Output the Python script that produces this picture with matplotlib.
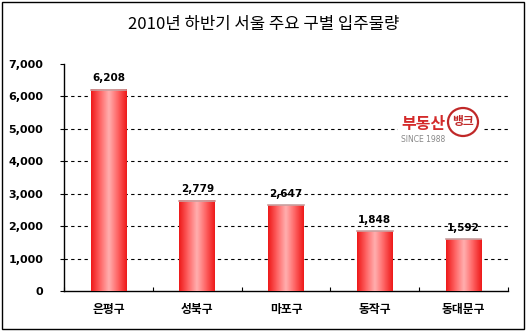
import numpy as np
import matplotlib.pyplot as plt
from matplotlib.patches import Rectangle, Ellipse
from matplotlib.colors import LinearSegmentedColormap

plt.rcParams['font.family'] = ['Noto Sans CJK KR', 'DejaVu Sans']

title = "2010년 하반기 서울 주요 구별 입주물량"
districts = ["은평구", "성북구", "마포구", "동작구", "동대문구"]
supply = [6208, 2779, 2647, 1848, 1592]
y_ticks = [0, 1000, 2000, 3000, 4000, 5000, 6000, 7000]

fig = plt.figure(figsize=(5.27, 3.32), dpi=100)
W, H = 527, 332
ax = fig.add_axes([64 / W, 1 - 291 / H, 444 / W, 227 / H])

# outer frame around the whole chart
fig.patches.append(Rectangle((2 / W, 3 / H), 522 / W, 327 / H, transform=fig.transFigure,
                             fill=False, edgecolor='black', linewidth=1.0))

fig.text(0.5, 1 - 25 / H, title, ha='center', va='center', fontsize=12)

ax.set_xlim(-0.5, len(districts) - 0.5)
ax.set_ylim(0, 7000)

# horizontal red-pink-red shading for the bars
cmap = LinearSegmentedColormap.from_list(
    'bar', [(0.0, '#ee1a1a'), (0.25, '#ff6464'), (0.5, '#ffb0b0'), (0.75, '#ff6464'), (1.0, '#ee1a1a')])
grad = np.linspace(0, 1, 64).reshape(1, -1)
bw = 0.4
for i, v in enumerate(supply):
    ax.imshow(grad, cmap=cmap, aspect='auto', extent=[i - bw / 2, i + bw / 2, 0, v],
              zorder=3, interpolation='bicubic')
    ax.plot([i - bw / 2, i + bw / 2], [v, v], color='#c8a0a0', linewidth=1.2, zorder=4)
    ax.text(i, v + 200, f"{v:,}", ha='center', va='bottom', fontsize=7.5,
            fontweight='bold', family='DejaVu Sans')

for t in y_ticks[1:-1]:
    ax.axhline(t, color='black', linestyle=(0, (3, 3)), linewidth=0.8, zorder=1)

ax.set_yticks(y_ticks)
ax.set_yticklabels([f"{t:,}" for t in y_ticks], fontsize=8, fontweight='bold', family='DejaVu Sans')
ax.tick_params(axis='y', direction='out', length=3, width=0.8, pad=12)

ax.set_xticks(np.arange(len(districts)))
ax.set_xticklabels(districts, fontsize=8.5, fontweight='bold')
ax.set_xticks(np.arange(len(districts) + 1) - 0.5, minor=True)
ax.tick_params(axis='x', which='major', length=0, pad=9)
ax.tick_params(axis='x', which='minor', direction='in', length=3, width=0.8)

for s in ['top', 'right']:
    ax.spines[s].set_visible(False)
for s in ['left', 'bottom']:
    ax.spines[s].set_linewidth(1.0)

# brand mark on a white patch that hides the gridline behind it
fig.patches.append(Rectangle((398 / W, 1 - 146 / H), 84 / W, 40 / H, transform=fig.transFigure,
                             facecolor='white', edgecolor='none', zorder=5))
fig.text(423 / W, 1 - 124 / H, "부동산", ha='center', va='center', fontsize=11.5,
         fontweight='bold', color='#d42a2a', zorder=6)
fig.text(423 / W, 1 - 140 / H, "SINCE 1988", ha='center', va='center', fontsize=5.5,
         color='#888888', family='DejaVu Sans', zorder=6)
fig.patches.append(Ellipse((463 / W, 1 - 122 / H), 30 / W, 28 / H, transform=fig.transFigure,
                           fill=False, edgecolor='#c02828', linewidth=1.6, zorder=6))
fig.text(463 / W, 1 - 122 / H, "뱅크", ha='center', va='center', fontsize=8.5,
         fontweight='bold', color='#c02828', zorder=6)

fig.savefig('out.png', dpi=100)
